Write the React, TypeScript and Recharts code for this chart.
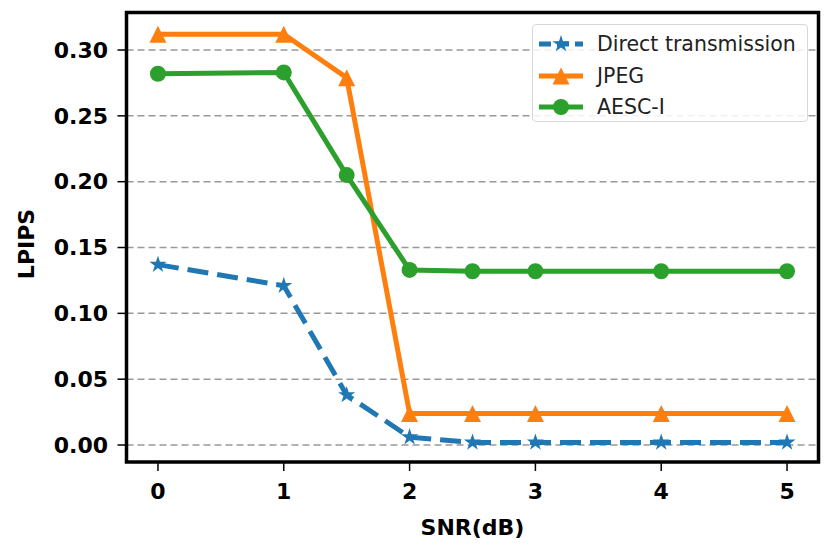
import React from "react";
import {
  LineChart,
  Line,
  XAxis,
  YAxis,
  CartesianGrid,
  ReferenceArea,
} from "recharts";

const snr = [0, 1, 1.5, 2, 2.5, 3, 4, 5];
const direct = [0.137, 0.121, 0.038, 0.006, 0.002, 0.002, 0.002, 0.002];
const jpeg = [0.312, 0.312, 0.279, 0.024, 0.024, 0.024, 0.024, 0.024];
const aesc = [0.282, 0.283, 0.205, 0.133, 0.132, 0.132, 0.132, 0.132];
const xTicks = [0, 1, 2, 3, 4, 5];
const yTicks = [0, 0.05, 0.1, 0.15, 0.2, 0.25, 0.3];

const BLUE = "#1f77b4";
const ORANGE = "#ff7f0e";
const GREEN = "#2ca02c";
const FONT = "'DejaVu Sans', sans-serif";
const X_DOMAIN = [-0.25, 5.25];
const Y_DOMAIN = [-0.0129, 0.3285];

const data = snr.map((x, i) => ({
  snr: x,
  direct: direct[i],
  jpeg: jpeg[i],
  aesc: aesc[i],
}));

function starPoints(cx: number, cy: number, r: number) {
  const pts: string[] = [];
  for (let i = 0; i < 10; i++) {
    const rad = i % 2 === 0 ? r : r * 0.38;
    const a = -Math.PI / 2 + (i * Math.PI) / 5;
    pts.push(`${cx + rad * Math.cos(a)},${cy + rad * Math.sin(a)}`);
  }
  return pts.join(" ");
}

const StarDot = (p: any) => (
  <polygon key={p.index} points={starPoints(p.cx, p.cy, 9)} fill={BLUE} />
);
const TriDot = (p: any) => (
  <polygon
    key={p.index}
    points={`${p.cx},${p.cy - 8.5} ${p.cx - 8.5},${p.cy + 8.5} ${p.cx + 8.5},${p.cy + 8.5}`}
    fill={ORANGE}
  />
);
const CircleDot = (p: any) => (
  <circle key={p.index} cx={p.cx} cy={p.cy} r={8} fill={GREEN} />
);

const tickStyle = { fontFamily: FONT, fontWeight: "bold", fontSize: 22, fill: "#000" };

function LegendBox() {
  const rows = [
    { name: "Direct transmission", color: BLUE, dash: "12 6", mark: "star" },
    { name: "JPEG", color: ORANGE, dash: undefined, mark: "tri" },
    { name: "AESC-I", color: GREEN, dash: undefined, mark: "circle" },
  ];
  return (
    <div
      style={{
        position: "absolute",
        left: 532,
        top: 24,
        width: 276,
        height: 98,
        border: "1.5px solid #d8d8d8",
        borderRadius: 4,
        background: "rgba(255,255,255,0.85)",
        boxSizing: "border-box",
      }}
    >
      {rows.map((r, i) => (
        <div
          key={r.name}
          style={{
            position: "absolute",
            left: 4,
            top: 4 + i * 31.5,
            height: 30,
            display: "flex",
            alignItems: "center",
          }}
        >
          <svg width={48} height={30}>
            <line
              x1={2}
              x2={46}
              y1={15}
              y2={15}
              stroke={r.color}
              strokeWidth={5}
              strokeDasharray={r.dash}
            />
            {r.mark === "star" && <polygon points={starPoints(24, 15, 9)} fill={r.color} />}
            {r.mark === "tri" && (
              <polygon points="24,6.5 15.5,23.5 32.5,23.5" fill={r.color} />
            )}
            {r.mark === "circle" && <circle cx={24} cy={15} r={8} fill={r.color} />}
          </svg>
          <span
            style={{
              fontFamily: FONT,
              fontSize: 20.5,
              color: "#222",
              marginLeft: 12,
              lineHeight: "30px",
            }}
          >
            {r.name}
          </span>
        </div>
      ))}
    </div>
  );
}

export default function App() {
  return (
    <div style={{ position: "relative", width: 830, height: 554, margin: -8, background: "#fff" }}>
      <LineChart
        width={830}
        height={554}
        data={data}
        margin={{ top: 12.5, right: 11.5, left: 0, bottom: 0 }}
      >
        <CartesianGrid
          vertical={false}
          stroke="#999"
          strokeWidth={1.5}
          strokeDasharray="7 4"
        />
        <XAxis
          dataKey="snr"
          type="number"
          domain={X_DOMAIN}
          ticks={xTicks}
          allowDataOverflow
          height={92}
          axisLine={false}
          tickLine={{ stroke: "#000", strokeWidth: 1.5 }}
          tickSize={9}
          tickMargin={12}
          tick={tickStyle}
          label={() => (
            <text
              x={472.5}
              y={527}
              textAnchor="middle"
              dominantBaseline="central"
              style={tickStyle}
            >
              SNR(dB)
            </text>
          )}
        />
        <YAxis
          type="number"
          domain={Y_DOMAIN}
          ticks={yTicks}
          allowDataOverflow
          width={126.5}
          axisLine={false}
          tickLine={{ stroke: "#000", strokeWidth: 1.5 }}
          tickSize={9}
          tickMargin={9.5}
          tick={tickStyle}
          tickFormatter={(v: number) => v.toFixed(2)}
          label={() => (
            <text
              x={26}
              y={244}
              textAnchor="middle"
              dominantBaseline="central"
              transform="rotate(-90, 26, 244)"
              style={tickStyle}
            >
              LPIPS
            </text>
          )}
        />
        <Line
          dataKey="direct"
          stroke={BLUE}
          strokeWidth={5}
          strokeDasharray="21 9"
          dot={StarDot}
          activeDot={false}
          isAnimationActive={false}
        />
        <Line
          dataKey="jpeg"
          stroke={ORANGE}
          strokeWidth={5}
          dot={TriDot}
          activeDot={false}
          isAnimationActive={false}
        />
        <Line
          dataKey="aesc"
          stroke={GREEN}
          strokeWidth={5}
          dot={CircleDot}
          activeDot={false}
          isAnimationActive={false}
        />
        <ReferenceArea
          x1={X_DOMAIN[0]}
          x2={X_DOMAIN[1]}
          y1={Y_DOMAIN[0]}
          y2={Y_DOMAIN[1]}
          fill="none"
          fillOpacity={0}
          stroke="#000"
          strokeWidth={3.5}
          ifOverflow="visible"
        />
      </LineChart>
      <LegendBox />
    </div>
  );
}
